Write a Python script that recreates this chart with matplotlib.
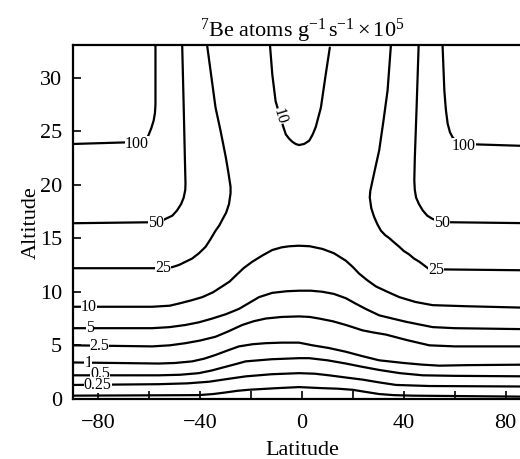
import matplotlib.pyplot as plt
from matplotlib.ticker import MultipleLocator, FixedLocator

plt.rcParams['font.family'] = ['Liberation Serif', 'DejaVu Serif']
plt.rcParams['mathtext.fontset'] = 'custom'
plt.rcParams['mathtext.rm'] = 'Liberation Serif'
plt.rcParams['mathtext.it'] = 'Liberation Serif:italic'

# production contours traced as (latitude, altitude) pairs
# upper level contours, left and right hemispheres
lat_100_w = [-90, -62, -61, -60.2, -59.2, -58.3, -57.8, -57.6, -57.6]
alt_100_w = [23.8, 24.0, 24.3, 24.7, 25.3, 26.0, 26.7, 27.5, 33]
lat_100_e = [55.2, 55.9, 56.5, 57.2, 58.1, 59.2, 61, 63, 90]
alt_100_e = [33, 28.8, 27.0, 25.7, 24.9, 24.4, 24.0, 23.8, 23.6]

lat_50_w = [-90, -56, -53.7, -51, -49.1, -47.5, -46.5, -45.9, -45.8, -46.0, -46.5, -47.1]
alt_50_w = [16.4, 16.5, 16.8, 17.1, 17.6, 18.2, 18.8, 19.5, 20.1, 22, 27.2, 33]
lat_50_e = [45.8, 45.0, 44.3, 44.1, 44.3, 44.8, 45.9, 47.4, 49.2, 51.3, 55, 90]
alt_50_e = [33, 27.2, 22.5, 20.4, 19.5, 18.8, 18.2, 17.6, 17.1, 16.8, 16.5, 16.4]

lat_25_w = [-90, -58, -51, -48.4, -45.8, -43.2, -40.5, -37.9, -36, -34, -32.5, -31.4,
            -29.8, -28.7, -28.1, -28.1, -29, -30, -32, -34, -37.3]
alt_25_w = [12.2, 12.2, 12.3, 12.5, 12.8, 13.1, 13.6, 14.2, 14.9, 15.7, 16.2, 16.7,
            17.4, 18.2, 19.2, 19.8, 21.2, 22.6, 25, 27.2, 33]
lat_25_e = [34.9, 33.6, 32, 30.3, 28.8, 27.7, 26.8, 26.6, 27.2, 28.3, 29.6, 31, 32.6,
            34.3, 36.2, 38.2, 40, 42, 44, 46.1, 50, 90]
alt_25_e = [33, 28.8, 26, 23.2, 21.6, 20.4, 19.4, 18.8, 17.8, 17.0, 16.3, 15.7, 15.3,
            15.0, 14.6, 14.2, 13.8, 13.5, 13.1, 12.8, 12.1, 12.0]

# 10 contour: tropical minimum aloft
lat_10_top = [-12.6, -11.7, -10.4, -8.7, -7.5, -6.4, -5.1, -3.8, -2.5, -1.2, 0.8, 2.8, 4.2,
              5.4, 7.4, 9.3, 10.9]
alt_10_top = [33, 30.3, 27.8, 26.4, 25.5, 24.7, 24.3, 24.0, 23.8, 23.7, 23.8, 24.1, 24.7,
              25.4, 27.2, 30.3, 32.8]

# lower troposphere contours spanning all latitudes
lat_10 = [-90, -58.9, -52, -48.4, -43.5, -39.2, -35, -31.4, -28.5, -26.1, -23, -19.6, -15.5,
          -11.7, -8, -5, -1.2, 3, 8, 12.5, 17.2, 20, 22.4, 25.5, 29, 33.5, 38.2, 44.5,
          51.3, 64.4, 90]
alt_10 = [8.6, 8.6, 8.7, 8.9, 9.2, 9.5, 9.95, 10.5, 10.95, 11.5, 12.2, 12.8, 13.4,
          13.9, 14.15, 14.25, 14.3, 14.25, 14.0, 13.6, 12.9, 12.3, 11.7, 11.1, 10.5, 10.0,
          9.5, 9.05, 8.75, 8.65, 8.5]

lat_5 = [-90, -58.9, -52, -45.8, -40.5, -35.3, -30, -24.8, -20.5, -16.9, -11.7, -6, -1.2,
         3.5, 8, 12.5, 17.2, 21, 25, 30.3, 35.5, 40.8, 46, 51.3, 60, 90]
alt_5 = [6.6, 6.6, 6.7, 6.9, 7.15, 7.5, 7.9, 8.4, 9.0, 9.5, 9.9, 10.05, 10.1,
         10.1, 10.0, 9.8, 9.4, 8.9, 8.4, 7.8, 7.5, 7.2, 6.95, 6.7, 6.6, 6.5]

lat_2_5 = [-90, -58.9, -52, -45.8, -40, -34, -29, -23.5, -19, -14.3, -8, -1.2, 3, 6.7, 12,
           17.2, 20.5, 23.7, 28, 33, 41, 50, 60, 90]
alt_2_5 = [5.0, 4.9, 5.0, 5.2, 5.45, 5.8, 6.3, 6.9, 7.25, 7.5, 7.65, 7.7, 7.65, 7.5, 7.25,
           6.9, 6.65, 6.4, 6.2, 6.0, 5.5, 5.0, 4.9, 4.9]

lat_1 = [-90, -56.3, -50, -43.2, -38.5, -34, -29.5, -24.8, -19.5, -14.3, -8, -1.2, 4.1,
         10.5, 17.2, 23.5, 30.3, 40, 47, 53.9, 65, 90]
alt_1 = [3.4, 3.3, 3.35, 3.5, 3.75, 4.1, 4.5, 4.9, 5.1, 5.2, 5.25, 5.25, 5.0,
         4.75, 4.4, 4.0, 3.6, 3.35, 3.2, 3.1, 3.15, 3.2]

lat_0_5 = [-90, -56.3, -48, -40.6, -35.5, -30, -26, -22.2, -12, -1.2, 2.8, 10, 17.2, 23.5,
           30.3, 38.5, 47.4, 60, 90]
alt_0_5 = [2.2, 2.2, 2.25, 2.4, 2.65, 3.0, 3.25, 3.5, 3.7, 3.8, 3.8, 3.6, 3.3, 3.0,
           2.7, 2.4, 2.2, 2.15, 2.1]

lat_0_25 = [-90, -56.3, -45, -36.6, -29.5, -22.2, -12, -1.2, 5, 10.6, 17, 23.7, 30,
            36.9, 50, 90]
alt_0_25 = [1.3, 1.37, 1.45, 1.6, 1.85, 2.1, 2.3, 2.4, 2.35, 2.2, 2.0, 1.8, 1.55,
            1.3, 1.2, 1.15]

lat_base = [-90, -40.6, -35, -30, -25.5, -20.9, -10, -1.2, 8, 14, 19.8, 25, 30.3, 36, 43.4, 90]
alt_base = [0.3, 0.35, 0.45, 0.6, 0.75, 0.85, 1.0, 1.1, 1.0, 0.95, 0.85, 0.65, 0.45, 0.35, 0.3, 0.2]

# inline contour labels
label_text = ['100', '100', '50', '50', '25', '25', '10', '10', '5', '2.5', '1', '0.5', '0.25']
label_lat = [-65, 63.5, -57.5, 55, -54.7, 52.6, -8.7, -83.7, -83.2, -79.6, -84, -79.4, -80.3]
label_alt = [23.8, 23.65, 16.4, 16.4, 12.2, 12.0, 26.4, 8.6, 6.6, 4.95, 3.35, 2.3, 1.25]
label_rot = [0, 0, 0, 0, 0, 0, -73, 0, 0, 0, 0, 0, 0]

lines = [
    (lat_100_w, alt_100_w), (lat_100_e, alt_100_e),
    (lat_50_w, alt_50_w), (lat_50_e, alt_50_e),
    (lat_25_w, alt_25_w), (lat_25_e, alt_25_e),
    (lat_10_top, alt_10_top), (lat_10, alt_10), (lat_5, alt_5),
    (lat_2_5, alt_2_5), (lat_1, alt_1), (lat_0_5, alt_0_5),
    (lat_0_25, alt_0_25), (lat_base, alt_base),
]

fig = plt.figure(figsize=(5.2, 4.59), dpi=100)
ax = fig.add_axes([0.1404, 0.131, 0.881, 0.77])

for lat, alt in lines:
    ax.plot(lat, alt, color='black', lw=1.6, solid_joinstyle='round',
            solid_capstyle='round', zorder=2)

for txt, x, y, r in zip(label_text, label_lat, label_alt, label_rot):
    ax.text(x, y, txt, fontsize=11.5, ha='center', va='center', rotation=r,
            bbox=dict(facecolor='white', edgecolor='none', pad=0), zorder=3)

ax.set_xlim(-90, 90)
ax.set_ylim(0, 33)
ax.xaxis.set_major_locator(FixedLocator([-80, -40, 0, 40, 80]))
ax.xaxis.set_minor_locator(MultipleLocator(20))
ax.yaxis.set_major_locator(MultipleLocator(5))
ax.tick_params(which='both', direction='in', length=6, width=1.2, labelsize=16)
ax.tick_params(axis='x', pad=11)
ax.tick_params(axis='y', pad=8)
for s in ax.spines.values():
    s.set_linewidth(1.6)

ax.set_xlabel('Latitude', fontsize=16)
ax.set_ylabel('Altitude', fontsize=16)
ax.xaxis.set_label_coords(0.5, -0.118)
ax.yaxis.set_label_coords(-0.071, 0.5)
ax.set_title(r'$^{7}\mathrm{Be\ atoms\ g}^{-1}\,\mathrm{s}^{-1} \times 10^{5}$', fontsize=16, pad=6)

fig.savefig('out.png', dpi=100)
